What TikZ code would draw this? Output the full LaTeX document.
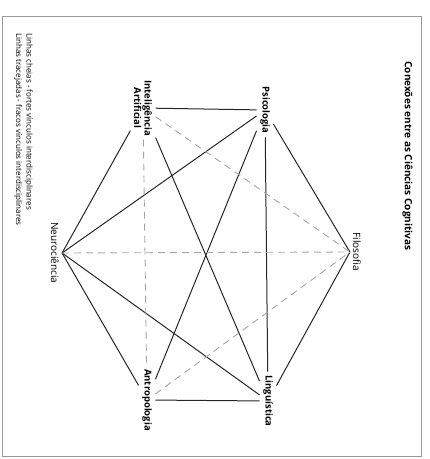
\documentclass[tikz,border=0pt]{standalone}
\usepackage{fontspec}
\setmainfont{Open Sans}
\begin{document}
\begin{tikzpicture}[x=1pt,y=-1pt,
  disc/.style={rotate=-90, inner sep=3.5pt, font=\fontsize{9.5}{10.5}\selectfont\bfseries, align=center},
  discfina/.style={rotate=-90, inner sep=3pt, font=\fontsize{10}{11}\selectfont},
  forte/.style={line width=1pt, black!85},
  fraco/.style={line width=0.9pt, gray!70, dash pattern=on 7pt off 5pt}]
  \useasboundingbox (0,0) rectangle (430,459);
  % moldura
  \draw[gray!80, line width=0.8pt] (2,16) rectangle (421,456);
  % titulo e legenda
  \node[rotate=-90, anchor=south, font=\fontsize{10}{12}\selectfont\bfseries] (titulo) at (399,156)
    {Conexões entre as Ciências Cognitivas};
  \node[rotate=-90, anchor=north west, align=left, inner sep=0pt,
        font=\fontsize{8}{10.5}\selectfont] (legenda) at (33,33)
    {Linhas cheias - fortes vínculos interdisciplinares\\
     Linhas tracejadas - fracos vínculos interdisciplinares};
  % disciplinas
  \node[disc] (psi) at (265,110) {Psicologia};
  \node[disc] (ia) at (143,108) {Inteligência\\Artificial};
  \node[discfina] (fil) at (357,252) {Filosofia};
  \node[discfina] (neu) at (55,253) {Neurociência};
  \node[disc] (ant) at (147,400) {Antropologia};
  \node[disc] (lin) at (268,401) {Linguística};
  % vinculos fortes
  \draw[forte] (ia) -- (psi);
  \draw[forte] (psi) -- (lin);
  \draw[forte] (ant) -- (lin);
  \draw[forte] (ia) -- (neu.north);
  \draw[forte] (psi) -- (neu.north);
  \draw[forte] (psi) -- (ant);
  \draw[forte] (ia) -- (lin);
  \draw[forte] (psi) -- (fil.south);
  \draw[forte] (fil.south) -- (lin);
  \draw[forte] (neu.north) -- (ant);
  \draw[forte] (neu.north) -- (lin);
  % vinculos fracos
  \draw[fraco] (ia) -- (fil.south);
  \draw[fraco] (neu.north) -- (fil.south);
  \draw[fraco] (ant) -- (fil.south);
  \draw[fraco] (ia) -- (ant);
\end{tikzpicture}
\end{document}
